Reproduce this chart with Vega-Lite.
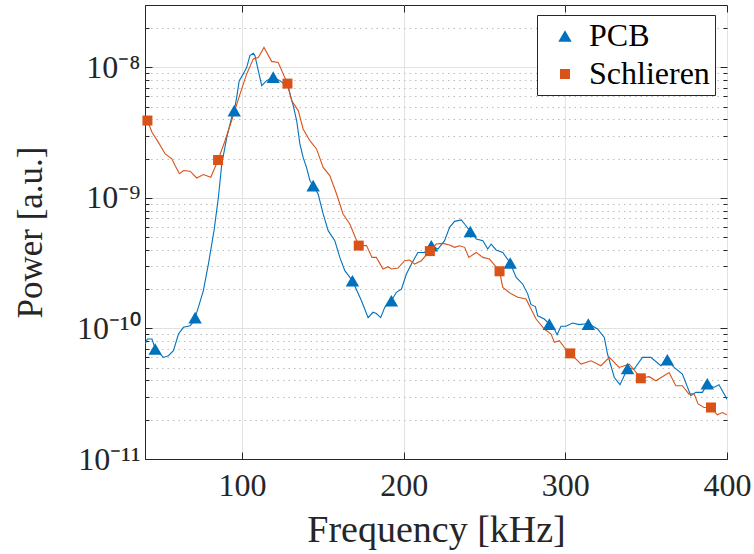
{
  "$schema": "https://vega.github.io/schema/vega-lite/v6.json",
  "width": 582,
  "height": 454,
  "autosize": {"type": "none"},
  "padding": {"left": 145, "top": 5, "right": 27, "bottom": 95},
  "background": "white",
  "config": {
    "font": "Liberation Serif",
    "view": {"stroke": "#262626", "strokeWidth": 1},
    "axis": {
      "labelFont": "Liberation Serif",
      "titleFont": "Liberation Serif",
      "labelColor": "#262626",
      "titleColor": "#262626",
      "titleFontWeight": "normal",
      "domainColor": "#262626",
      "tickColor": "#262626",
      "domainWidth": 1,
      "tickWidth": 1
    }
  },
  "datasets": {
    "lines": [
      {"s": "PCB", "f": 40.1, "p": 7.59e-11},
      {"s": "PCB", "f": 41.5, "p": 8.3e-11},
      {"s": "PCB", "f": 44.3, "p": 8.3e-11},
      {"s": "PCB", "f": 46.3, "p": 7.0e-11},
      {"s": "PCB", "f": 51.4, "p": 6.0e-11},
      {"s": "PCB", "f": 54.5, "p": 6.18e-11},
      {"s": "PCB", "f": 57.6, "p": 6.75e-11},
      {"s": "PCB", "f": 60.7, "p": 9.06e-11},
      {"s": "PCB", "f": 63.8, "p": 1.02e-10},
      {"s": "PCB", "f": 67.9, "p": 1.05e-10},
      {"s": "PCB", "f": 69.9, "p": 1.12e-10},
      {"s": "PCB", "f": 71.0, "p": 1.21e-10},
      {"s": "PCB", "f": 73.0, "p": 1.45e-10},
      {"s": "PCB", "f": 76.1, "p": 1.95e-10},
      {"s": "PCB", "f": 79.2, "p": 3.11e-10},
      {"s": "PCB", "f": 82.7, "p": 5.61e-10},
      {"s": "PCB", "f": 85.4, "p": 1.01e-9},
      {"s": "PCB", "f": 87.5, "p": 1.82e-9},
      {"s": "PCB", "f": 90.6, "p": 2.91e-9},
      {"s": "PCB", "f": 93.6, "p": 4.14e-9},
      {"s": "PCB", "f": 95.2, "p": 4.66e-9},
      {"s": "PCB", "f": 96.7, "p": 5.89e-9},
      {"s": "PCB", "f": 98.3, "p": 7.91e-9},
      {"s": "PCB", "f": 100.8, "p": 8.9e-9},
      {"s": "PCB", "f": 102.9, "p": 1.0e-8},
      {"s": "PCB", "f": 104.9, "p": 1.23e-8},
      {"s": "PCB", "f": 107.0, "p": 1.28e-8},
      {"s": "PCB", "f": 108.0, "p": 1.23e-8},
      {"s": "PCB", "f": 110.1, "p": 9.4e-9},
      {"s": "PCB", "f": 112.2, "p": 7.24e-9},
      {"s": "PCB", "f": 115.2, "p": 7.91e-9},
      {"s": "PCB", "f": 119.3, "p": 8.38e-9},
      {"s": "PCB", "f": 123.5, "p": 7.91e-9},
      {"s": "PCB", "f": 128.6, "p": 7.0e-9},
      {"s": "PCB", "f": 131.7, "p": 5.09e-9},
      {"s": "PCB", "f": 133.8, "p": 3.91e-9},
      {"s": "PCB", "f": 135.8, "p": 2.59e-9},
      {"s": "PCB", "f": 137.8, "p": 2.04e-9},
      {"s": "PCB", "f": 139.9, "p": 1.71e-9},
      {"s": "PCB", "f": 142.0, "p": 1.36e-9},
      {"s": "PCB", "f": 144.0, "p": 1.24e-9},
      {"s": "PCB", "f": 147.1, "p": 1.07e-9},
      {"s": "PCB", "f": 150.2, "p": 7.53e-10},
      {"s": "PCB", "f": 153.3, "p": 5.61e-10},
      {"s": "PCB", "f": 157.4, "p": 4.7e-10},
      {"s": "PCB", "f": 160.5, "p": 3.5e-10},
      {"s": "PCB", "f": 163.6, "p": 2.77e-10},
      {"s": "PCB", "f": 168.3, "p": 2.32e-10},
      {"s": "PCB", "f": 173.9, "p": 1.63e-10},
      {"s": "PCB", "f": 178.0, "p": 1.21e-10},
      {"s": "PCB", "f": 181.0, "p": 1.33e-10},
      {"s": "PCB", "f": 183.1, "p": 1.3e-10},
      {"s": "PCB", "f": 185.8, "p": 1.21e-10},
      {"s": "PCB", "f": 188.3, "p": 1.45e-10},
      {"s": "PCB", "f": 192.4, "p": 1.63e-10},
      {"s": "PCB", "f": 195.5, "p": 1.89e-10},
      {"s": "PCB", "f": 198.6, "p": 2.0e-10},
      {"s": "PCB", "f": 201.7, "p": 2.61e-10},
      {"s": "PCB", "f": 204.8, "p": 3.11e-10},
      {"s": "PCB", "f": 208.8, "p": 3.82e-10},
      {"s": "PCB", "f": 213.0, "p": 3.82e-10},
      {"s": "PCB", "f": 217.1, "p": 4.3e-10},
      {"s": "PCB", "f": 221.2, "p": 4.06e-10},
      {"s": "PCB", "f": 225.3, "p": 4.7e-10},
      {"s": "PCB", "f": 228.4, "p": 5.94e-10},
      {"s": "PCB", "f": 231.5, "p": 6.61e-10},
      {"s": "PCB", "f": 235.6, "p": 6.78e-10},
      {"s": "PCB", "f": 237.7, "p": 6.31e-10},
      {"s": "PCB", "f": 241.2, "p": 5.53e-10},
      {"s": "PCB", "f": 244.9, "p": 4.84e-10},
      {"s": "PCB", "f": 249.0, "p": 4.7e-10},
      {"s": "PCB", "f": 252.0, "p": 4.06e-10},
      {"s": "PCB", "f": 254.1, "p": 4.43e-10},
      {"s": "PCB", "f": 257.2, "p": 3.99e-10},
      {"s": "PCB", "f": 261.3, "p": 3.82e-10},
      {"s": "PCB", "f": 265.9, "p": 3.17e-10},
      {"s": "PCB", "f": 269.6, "p": 2.46e-10},
      {"s": "PCB", "f": 273.6, "p": 2.19e-10},
      {"s": "PCB", "f": 276.7, "p": 1.84e-10},
      {"s": "PCB", "f": 278.8, "p": 1.52e-10},
      {"s": "PCB", "f": 281.5, "p": 1.47e-10},
      {"s": "PCB", "f": 282.9, "p": 1.25e-10},
      {"s": "PCB", "f": 287.0, "p": 1.18e-10},
      {"s": "PCB", "f": 290.1, "p": 1.08e-10},
      {"s": "PCB", "f": 293.2, "p": 9.9e-11},
      {"s": "PCB", "f": 294.9, "p": 8.95e-11},
      {"s": "PCB", "f": 297.3, "p": 1.04e-10},
      {"s": "PCB", "f": 300.4, "p": 1.04e-10},
      {"s": "PCB", "f": 304.5, "p": 1.1e-10},
      {"s": "PCB", "f": 308.6, "p": 1.07e-10},
      {"s": "PCB", "f": 314.2, "p": 1.09e-10},
      {"s": "PCB", "f": 319.9, "p": 9.9e-11},
      {"s": "PCB", "f": 324.1, "p": 8.53e-11},
      {"s": "PCB", "f": 326.1, "p": 6.37e-11},
      {"s": "PCB", "f": 330.3, "p": 4.21e-11},
      {"s": "PCB", "f": 333.8, "p": 3.71e-11},
      {"s": "PCB", "f": 336.4, "p": 4.34e-11},
      {"s": "PCB", "f": 338.5, "p": 4.93e-11},
      {"s": "PCB", "f": 342.6, "p": 4.89e-11},
      {"s": "PCB", "f": 347.7, "p": 6.0e-11},
      {"s": "PCB", "f": 352.9, "p": 6.0e-11},
      {"s": "PCB", "f": 359.1, "p": 5.18e-11},
      {"s": "PCB", "f": 363.1, "p": 5.75e-11},
      {"s": "PCB", "f": 367.3, "p": 5.03e-11},
      {"s": "PCB", "f": 372.4, "p": 4.47e-11},
      {"s": "PCB", "f": 377.6, "p": 3.05e-11},
      {"s": "PCB", "f": 380.7, "p": 3.24e-11},
      {"s": "PCB", "f": 384.8, "p": 3.24e-11},
      {"s": "PCB", "f": 387.8, "p": 3.77e-11},
      {"s": "PCB", "f": 391.9, "p": 3.53e-11},
      {"s": "PCB", "f": 395.0, "p": 3.71e-11},
      {"s": "PCB", "f": 399.2, "p": 3.0e-11},
      {"s": "PCB", "f": 400.0, "p": 2.85e-11},
      {"s": "Schlieren", "f": 41.5, "p": 3.91e-9},
      {"s": "Schlieren", "f": 44.3, "p": 3.18e-9},
      {"s": "Schlieren", "f": 48.3, "p": 2.66e-9},
      {"s": "Schlieren", "f": 52.5, "p": 2.17e-9},
      {"s": "Schlieren", "f": 56.6, "p": 1.99e-9},
      {"s": "Schlieren", "f": 58.6, "p": 1.77e-9},
      {"s": "Schlieren", "f": 61.3, "p": 1.53e-9},
      {"s": "Schlieren", "f": 63.8, "p": 1.62e-9},
      {"s": "Schlieren", "f": 67.9, "p": 1.6e-9},
      {"s": "Schlieren", "f": 72.0, "p": 1.42e-9},
      {"s": "Schlieren", "f": 76.1, "p": 1.51e-9},
      {"s": "Schlieren", "f": 80.7, "p": 1.44e-9},
      {"s": "Schlieren", "f": 85.2, "p": 1.95e-9},
      {"s": "Schlieren", "f": 89.5, "p": 2.74e-9},
      {"s": "Schlieren", "f": 93.6, "p": 3.91e-9},
      {"s": "Schlieren", "f": 98.8, "p": 6.25e-9},
      {"s": "Schlieren", "f": 102.9, "p": 8.9e-9},
      {"s": "Schlieren", "f": 107.0, "p": 1.16e-8},
      {"s": "Schlieren", "f": 110.1, "p": 1.19e-8},
      {"s": "Schlieren", "f": 113.6, "p": 1.42e-8},
      {"s": "Schlieren", "f": 118.3, "p": 1.11e-8},
      {"s": "Schlieren", "f": 122.4, "p": 1.09e-8},
      {"s": "Schlieren", "f": 128.1, "p": 7.5e-9},
      {"s": "Schlieren", "f": 130.7, "p": 5.56e-9},
      {"s": "Schlieren", "f": 134.8, "p": 4.66e-9},
      {"s": "Schlieren", "f": 137.8, "p": 3.37e-9},
      {"s": "Schlieren", "f": 142.0, "p": 2.74e-9},
      {"s": "Schlieren", "f": 146.1, "p": 2.37e-9},
      {"s": "Schlieren", "f": 150.2, "p": 1.71e-9},
      {"s": "Schlieren", "f": 154.3, "p": 1.48e-9},
      {"s": "Schlieren", "f": 158.5, "p": 1.07e-9},
      {"s": "Schlieren", "f": 162.5, "p": 7.53e-10},
      {"s": "Schlieren", "f": 166.7, "p": 6.31e-10},
      {"s": "Schlieren", "f": 172.2, "p": 4.31e-10},
      {"s": "Schlieren", "f": 177.0, "p": 4.31e-10},
      {"s": "Schlieren", "f": 180.4, "p": 3.5e-10},
      {"s": "Schlieren", "f": 183.1, "p": 3.5e-10},
      {"s": "Schlieren", "f": 187.2, "p": 2.85e-10},
      {"s": "Schlieren", "f": 190.3, "p": 2.97e-10},
      {"s": "Schlieren", "f": 192.4, "p": 2.85e-10},
      {"s": "Schlieren", "f": 196.5, "p": 2.9e-10},
      {"s": "Schlieren", "f": 200.6, "p": 3.3e-10},
      {"s": "Schlieren", "f": 203.7, "p": 3.34e-10},
      {"s": "Schlieren", "f": 206.8, "p": 3.11e-10},
      {"s": "Schlieren", "f": 210.9, "p": 3.3e-10},
      {"s": "Schlieren", "f": 216.2, "p": 3.91e-10},
      {"s": "Schlieren", "f": 220.2, "p": 4.43e-10},
      {"s": "Schlieren", "f": 224.3, "p": 4.48e-10},
      {"s": "Schlieren", "f": 228.4, "p": 4.36e-10},
      {"s": "Schlieren", "f": 231.5, "p": 4.18e-10},
      {"s": "Schlieren", "f": 234.6, "p": 4.3e-10},
      {"s": "Schlieren", "f": 237.7, "p": 4.18e-10},
      {"s": "Schlieren", "f": 240.3, "p": 3.5e-10},
      {"s": "Schlieren", "f": 244.9, "p": 3.82e-10},
      {"s": "Schlieren", "f": 249.0, "p": 3.5e-10},
      {"s": "Schlieren", "f": 253.1, "p": 3.4e-10},
      {"s": "Schlieren", "f": 259.3, "p": 2.74e-10},
      {"s": "Schlieren", "f": 261.3, "p": 2.06e-10},
      {"s": "Schlieren", "f": 266.5, "p": 1.84e-10},
      {"s": "Schlieren", "f": 270.6, "p": 1.73e-10},
      {"s": "Schlieren", "f": 275.7, "p": 1.68e-10},
      {"s": "Schlieren", "f": 278.8, "p": 1.41e-10},
      {"s": "Schlieren", "f": 281.9, "p": 1.18e-10},
      {"s": "Schlieren", "f": 287.0, "p": 9.9e-11},
      {"s": "Schlieren", "f": 291.2, "p": 9.06e-11},
      {"s": "Schlieren", "f": 293.2, "p": 7.82e-11},
      {"s": "Schlieren", "f": 296.3, "p": 8.05e-11},
      {"s": "Schlieren", "f": 299.4, "p": 7.15e-11},
      {"s": "Schlieren", "f": 303.0, "p": 6.44e-11},
      {"s": "Schlieren", "f": 306.6, "p": 5.83e-11},
      {"s": "Schlieren", "f": 309.7, "p": 5.33e-11},
      {"s": "Schlieren", "f": 315.9, "p": 5.65e-11},
      {"s": "Schlieren", "f": 322.0, "p": 5.18e-11},
      {"s": "Schlieren", "f": 327.2, "p": 6.0e-11},
      {"s": "Schlieren", "f": 333.3, "p": 5.03e-11},
      {"s": "Schlieren", "f": 339.5, "p": 5.33e-11},
      {"s": "Schlieren", "f": 346.7, "p": 4.17e-11},
      {"s": "Schlieren", "f": 351.9, "p": 4.27e-11},
      {"s": "Schlieren", "f": 356.0, "p": 3.97e-11},
      {"s": "Schlieren", "f": 364.2, "p": 4.6e-11},
      {"s": "Schlieren", "f": 368.3, "p": 3.64e-11},
      {"s": "Schlieren", "f": 372.4, "p": 3.64e-11},
      {"s": "Schlieren", "f": 376.5, "p": 3.14e-11},
      {"s": "Schlieren", "f": 379.6, "p": 3.17e-11},
      {"s": "Schlieren", "f": 382.1, "p": 2.64e-11},
      {"s": "Schlieren", "f": 385.8, "p": 2.48e-11},
      {"s": "Schlieren", "f": 390.1, "p": 2.48e-11},
      {"s": "Schlieren", "f": 394.0, "p": 2.18e-11},
      {"s": "Schlieren", "f": 397.1, "p": 2.27e-11},
      {"s": "Schlieren", "f": 400.0, "p": 2.18e-11}
    ],
    "marks": [
      {"s": "PCB", "f": 46.3, "p": 6.95e-11},
      {"s": "PCB", "f": 71.0, "p": 1.21e-10},
      {"s": "PCB", "f": 95.2, "p": 4.66e-9},
      {"s": "PCB", "f": 119.3, "p": 8.4e-9},
      {"s": "PCB", "f": 144.0, "p": 1.24e-9},
      {"s": "PCB", "f": 168.3, "p": 2.32e-10},
      {"s": "PCB", "f": 192.4, "p": 1.63e-10},
      {"s": "PCB", "f": 217.1, "p": 4.3e-10},
      {"s": "PCB", "f": 241.2, "p": 5.53e-10},
      {"s": "PCB", "f": 265.9, "p": 3.17e-10},
      {"s": "PCB", "f": 290.1, "p": 1.08e-10},
      {"s": "PCB", "f": 314.2, "p": 1.08e-10},
      {"s": "PCB", "f": 338.5, "p": 4.93e-11},
      {"s": "PCB", "f": 363.1, "p": 5.75e-11},
      {"s": "PCB", "f": 387.8, "p": 3.77e-11},
      {"s": "Schlieren", "f": 41.5, "p": 3.91e-9},
      {"s": "Schlieren", "f": 85.2, "p": 1.95e-9},
      {"s": "Schlieren", "f": 128.1, "p": 7.5e-9},
      {"s": "Schlieren", "f": 172.2, "p": 4.31e-10},
      {"s": "Schlieren", "f": 216.2, "p": 3.91e-10},
      {"s": "Schlieren", "f": 259.3, "p": 2.74e-10},
      {"s": "Schlieren", "f": 303.0, "p": 6.44e-11},
      {"s": "Schlieren", "f": 346.7, "p": 4.15e-11},
      {"s": "Schlieren", "f": 390.1, "p": 2.48e-11}
    ]
  },
  "layer": [
    {
      "data": {"name": "lines"},
      "mark": {"type": "line", "strokeWidth": 1.1, "clip": true},
      "encoding": {
        "x": {
          "field": "f", "type": "quantitative",
          "scale": {"domain": [40, 400], "nice": false, "zero": false},
          "axis": {
            "values": [100, 200, 300, 400],
            "title": "Frequency [kHz]",
            "labelFontSize": 32,
            "titleFontSize": 38,
            "labelPadding": 18,
            "titlePadding": 10,
            "labelFlush": false,
            "grid": true,
            "gridColor": "#e2e2e2",
            "tickSize": -7
          }
        },
        "y": {
          "field": "p", "type": "quantitative",
          "scale": {"type": "log", "domain": [1e-11, 3e-8], "nice": false},
          "axis": {
            "values": [1e-11, 2e-11, 3e-11, 4e-11, 5e-11, 6e-11, 7e-11, 8e-11, 9e-11, 1e-10, 2e-10, 3e-10, 4e-10, 5e-10, 6e-10, 7e-10, 8e-10, 9e-10, 1e-9, 2e-9, 3e-9, 4e-9, 5e-9, 6e-9, 7e-9, 8e-9, 9e-9, 1e-8, 2e-8],
            "title": "Power [a.u.]",
            "labelFontSize": 32,
            "titleFontSize": 35,
            "labelPadding": 12,
            "titlePadding": 28,
            "labelFlush": false,
            "labelOverlap": false,
            "labelExpr": "abs(log(datum.value)/LN10 - round(log(datum.value)/LN10)) > 0.001 ? '' : (round(log(datum.value)/LN10) == -8 ? '10⁻⁸' : round(log(datum.value)/LN10) == -9 ? '10⁻⁹' : round(log(datum.value)/LN10) == -10 ? '10⁻¹⁰' : '10⁻¹¹')",
            "grid": true,
            "gridColor": {"condition": {"test": "abs(log(datum.value)/LN10 - round(log(datum.value)/LN10)) < 0.001", "value": "#e2e2e2"}, "value": "#bdbdbd"},
            "gridDash": {"condition": {"test": "abs(log(datum.value)/LN10 - round(log(datum.value)/LN10)) < 0.001", "value": []}, "value": [1.5, 4]},
            "tickSize": {"condition": {"test": "abs(log(datum.value)/LN10 - round(log(datum.value)/LN10)) < 0.001", "value": -7}, "value": -4}
          }
        },
        "stroke": {
          "field": "s", "type": "nominal",
          "scale": {"domain": ["Schlieren", "PCB"], "range": ["#D95319", "#0072BD"]},
          "legend": null
        }
      }
    },
    {
      "data": {"name": "marks"},
      "mark": {"type": "point", "filled": true, "opacity": 1, "strokeWidth": 0},
      "encoding": {
        "x": {
          "field": "f", "type": "quantitative",
          "axis": {"orient": "top", "values": [100, 200, 300, 400], "labels": false, "title": null, "grid": false, "tickSize": -7, "domain": false}
        },
        "y": {
          "field": "p", "type": "quantitative",
          "axis": {
            "orient": "right",
            "values": [1e-11, 2e-11, 3e-11, 4e-11, 5e-11, 6e-11, 7e-11, 8e-11, 9e-11, 1e-10, 2e-10, 3e-10, 4e-10, 5e-10, 6e-10, 7e-10, 8e-10, 9e-10, 1e-9, 2e-9, 3e-9, 4e-9, 5e-9, 6e-9, 7e-9, 8e-9, 9e-9, 1e-8, 2e-8],
            "labels": false, "title": null, "grid": false, "domain": false,
            "tickSize": {"condition": {"test": "abs(log(datum.value)/LN10 - round(log(datum.value)/LN10)) < 0.001", "value": -7}, "value": -4}
          }
        },
        "color": {
          "field": "s", "type": "nominal",
          "scale": {"domain": ["PCB", "Schlieren"], "range": ["#0072BD", "#D95319"]},
          "legend": {
            "orient": "none", "legendX": 392, "legendY": 10, "title": null,
            "labelFont": "Liberation Serif", "labelFontSize": 32, "labelColor": "#000000",
            "strokeColor": "#262626", "fillColor": "white", "padding": 5,
            "symbolOffset": 7, "labelOffset": 8, "rowPadding": 6,
            "symbolStrokeWidth": 0
          }
        },
        "shape": {
          "field": "s", "type": "nominal",
          "scale": {"domain": ["PCB", "Schlieren"], "range": ["triangle-up", "square"]}
        },
        "size": {
          "field": "s", "type": "nominal",
          "scale": {"domain": ["PCB", "Schlieren"], "range": [180, 100]}
        }
      }
    }
  ],
  "resolve": {"axis": {"x": "independent", "y": "independent"}}
}
